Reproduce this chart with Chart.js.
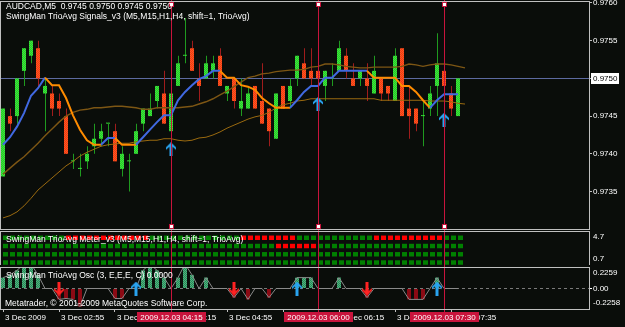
<!DOCTYPE html>
<html><head><meta charset="utf-8">
<script src="https://cdn.jsdelivr.net/npm/chart.js@4.4.0/dist/chart.umd.min.js"></script>
<style>
html,body{margin:0;padding:0;background:#0a0d0a;width:625px;height:327px;overflow:hidden}
canvas{position:absolute;left:0}
</style></head><body>
<canvas id="cMain" width="625" height="230" style="top:0px"></canvas>
<canvas id="cMeter" width="625" height="35" style="top:230px"></canvas>
<canvas id="cOsc" width="625" height="62" style="top:265px"></canvas>
<script>
// ---------------- DATA ----------------
const symbol = 'AUDCAD', timeframe = 'M5';
const mainTitle = 'SwingMan TrioAvg Signals_v3 (M5,M15,H1,H4, shift=1, TrioAvg)';
const meterTitle = 'SwingMan TrioAvg Meter_v3 (M5,M15,H1,H4, shift=1, TrioAvg)';
const oscTitle = 'SwingMan TrioAvg Osc (3, E,E,E, C) 0.0000';
const copyright = 'Metatrader, \u00a9 2001-2009 MetaQuotes Software Corp.';

const opens = [0.9737,0.9745,0.9745,0.9751,0.9753,0.9754,0.9748,0.9748,0.9747,0.9745,
0.9739,0.9738,0.9739,0.9741,0.9742,0.9744,0.9743,0.9738,0.9739,0.9740,
0.9744,0.9745,0.9747,0.9748,0.9743,0.9749,0.9753,0.9754,0.9750,0.9750,
0.9751,0.9753,0.9748,0.9750,0.9746,0.9746,0.9749,0.9747,0.9746,0.9742,
0.9749,0.9747,0.9750,0.9752,0.9751,0.9751,0.9749,0.9750,0.9751,0.9753,
0.9750,0.9750,0.9750,0.9748,0.9750,0.9749,0.9747,0.9754,0.9746,0.9746,
0.9745,0.9746,0.9749,0.9751,0.9748,0.9745];
const highs = [0.9746,0.9746,0.9750,0.9754,0.9755,0.9755,0.9750,0.9749,0.9748,0.9746,
0.9740,0.9740,0.9741,0.9744,0.9744,0.9744,0.9744,0.9741,0.9740,0.9744,
0.9746,0.9748,0.9749,0.9751,0.9750,0.9753,0.9758,0.9755,0.9752,0.9753,
0.9753,0.9754,0.9749,0.9750,0.9750,0.9749,0.9749,0.9752,0.9746,0.9748,
0.9749,0.9750,0.9753,0.9754,0.9754,0.9751,0.9751,0.9752,0.9755,0.9754,
0.9752,0.9751,0.9752,0.9753,0.9750,0.9749,0.9754,0.9754,0.9749,0.9746,
0.9747,0.9749,0.9756,0.9751,0.9749,0.9750];
const lows = [0.9737,0.9743,0.9744,0.9749,0.9752,0.9749,0.9743,0.9745,0.9745,0.9740,
0.9738,0.9737,0.9738,0.9740,0.9741,0.9741,0.9739,0.9737,0.9735,0.9740,
0.9743,0.9745,0.9746,0.9744,0.9743,0.9749,0.9752,0.9751,0.9747,0.9750,
0.9750,0.9749,0.9747,0.9746,0.9745,0.9746,0.9746,0.9744,0.9741,0.9742,
0.9746,0.9746,0.9749,0.9750,0.9749,0.9750,0.9747,0.9749,0.9751,0.9750,
0.9749,0.9749,0.9747,0.9748,0.9747,0.9747,0.9747,0.9745,0.9742,0.9743,
0.9741,0.9745,0.9745,0.9749,0.9745,0.9745];
const closes = [0.9746,0.9744,0.9750,0.9754,0.9755,0.9750,0.9749,0.9746,0.9746,0.9740,
0.9739,0.9738,0.9740,0.9742,0.9743,0.9744,0.9739,0.9740,0.9739,0.9743,
0.9746,0.9746,0.9749,0.9744,0.9748,0.9752,0.9753,0.9751,0.9749,0.9752,
0.9752,0.9749,0.9749,0.9747,0.9747,0.9748,0.9746,0.9744,0.9743,0.9748,
0.9746,0.9749,0.9753,0.9750,0.9750,0.9750,0.9751,0.9750,0.9754,0.9751,
0.9749,0.9751,0.9749,0.9751,0.9748,0.9748,0.9753,0.9745,0.9745,0.9744,
0.9745,0.9748,0.9752,0.9749,0.9746,0.9750];

const trioAvg = [0.97412,0.97422,0.97436,0.97454,0.97477,0.97487,0.97501,0.97491,0.97491,0.97474,
0.97451,0.97432,0.97418,0.97412,0.97412,0.97421,0.97421,0.97412,0.97412,0.97412,
0.97422,0.97432,0.97442,0.97451,0.97451,0.97471,0.97482,0.97491,0.97499,0.97503,
0.97510,0.97510,0.97501,0.97501,0.97491,0.97489,0.97485,0.97474,0.97467,0.97461,
0.97461,0.97461,0.97471,0.97482,0.97490,0.97490,0.97501,0.97501,0.97510,0.97510,
0.97510,0.97510,0.97510,0.97501,0.97501,0.97501,0.97501,0.97490,0.97490,0.97482,
0.97471,0.97461,0.97471,0.97479,0.97479,0.97479];
const trioDir = [1,1,1,1,1,1,1,-1,-1,-1,
-1,-1,-1,-1,-1,1,1,-1,-1,-1,
1,1,1,1,1,1,1,1,1,1,
1,1,-1,-1,-1,-1,-1,-1,-1,-1,
-1,-1,1,1,1,1,1,1,1,1,
1,1,1,-1,-1,-1,-1,-1,-1,-1,
-1,-1,1,1,1,1];
const maUpper = [0.97373,0.97381,0.97389,0.97396,0.97405,0.97414,0.97424,0.97433,0.97442,0.97450,
0.97455,0.97458,0.97459,0.97461,0.97461,0.97462,0.97463,0.97463,0.97462,0.97461,
0.97459,0.97459,0.97461,0.97461,0.97461,0.97461,0.97462,0.97463,0.97466,0.97469,
0.97473,0.97478,0.97483,0.97489,0.97495,0.97501,0.97503,0.97506,0.97507,0.97509,
0.97510,0.97511,0.97511,0.97512,0.97515,0.97516,0.97519,0.97519,0.97518,0.97516,
0.97515,0.97514,0.97514,0.97515,0.97515,0.97515,0.97515,0.97516,0.97519,0.97518,
0.97516,0.97518,0.97519,0.97519,0.97518,0.97516,0.97514];
const maLower = [0.97315,0.97318,0.97323,0.97331,0.97341,0.97352,0.97360,0.97368,0.97376,0.97384,
0.97390,0.97397,0.97402,0.97406,0.97410,0.97412,0.97413,0.97414,0.97414,0.97416,
0.97417,0.97418,0.97418,0.97420,0.97420,0.97418,0.97417,0.97418,0.97421,0.97422,
0.97425,0.97429,0.97434,0.97438,0.97442,0.97446,0.97449,0.97451,0.97455,0.97461,
0.97465,0.97467,0.97470,0.97471,0.97473,0.97473,0.97473,0.97473,0.97473,0.97473,
0.97473,0.97473,0.97473,0.97473,0.97471,0.97471,0.97471,0.97471,0.97471,0.97471,
0.97471,0.97470,0.97470,0.97470,0.97469,0.97467,0.97466];

const buyIdx = [24, 45, 63];
const buyPrice = [0.97406, 0.97466, 0.97445];
const priceTicks = [0.9760, 0.9755, 0.9750, 0.9745, 0.9740, 0.9735];
const bidPrice = 0.9750;

const meterM5 = [1,1,1,1,1,1,1,1,1,-1,
-1,-1,-1,-1,-1,-1,-1,-1,-1,-1,
-1,1,1,1,1,1,1,1,1,1,
1,1,1,1,-1,-1,-1,-1,-1,-1,
-1,-1,1,1,1,1,1,1,1,1,
1,1,1,-1,-1,-1,-1,-1,-1,-1,
-1,-1,-1,1,1,1];
const meterM15 = [1,1,1,1,1,1,1,1,1,1,
1,1,1,1,1,1,1,1,1,1,
1,1,1,1,1,1,1,1,1,1,
1,1,1,1,1,1,1,1,1,-1,
-1,-1,-1,-1,-1,1,1,1,1,1,
1,1,1,1,1,1,1,1,1,1,
1,1,1,1,1,1];
const meterH1 = [1,1,1,1,1,1,1,1,1,1,
1,1,1,1,1,1,1,1,1,1,
1,1,1,1,1,1,1,1,1,1,
1,1,1,1,1,1,1,1,1,1,
1,1,1,1,1,1,1,1,1,1,
1,1,1,1,1,1,1,1,1,1,
1,1,1,1,1,1];
const meterH4 = [1,1,1,1,1,1,1,1,1,1,
1,1,1,1,1,1,1,1,1,1,
1,1,1,1,1,1,1,1,1,1,
1,1,1,1,1,1,1,1,1,1,
1,1,1,1,1,1,1,1,1,1,
1,1,1,1,1,1,1,1,1,1,
1,1,1,1,1,1];

const oscHist = [0.12,0.15,0.20,0.27,0.27,0.15,0,0,-0.12,-0.11,
-0.12,-0.20,0,0,0,0,-0.11,-0.11,0,0,
0.20,0.27,0.20,0.12,0,0.12,0.27,0.15,0,0.12,
0,0,0,-0.10,0,-0.12,0,0,-0.10,0,
0,0,0.12,0.12,0.12,0,0,0,0.12,0,
0,0,-0.10,0,0,0,0,0,-0.12,-0.12,
-0.12,0,0.12,0,0,0];
const oscSellIdx = [8, 33, 52];
const oscBuyIdx = [19, 42, 62];
const oscMax = 0.2259, oscMin = -0.2258;
const meterMax = 4.7, meterMin = 0.7;

const signalIdx = [24, 45, 63];
const signalTimes = ['2009.12.03 04:15', '2009.12.03 06:00', '2009.12.03 07:30'];
const timeTickIdx = [0, 8, 16, 24, 32, 40, 48, 56, 64];
const timeLabels = ['3 Dec 2009','3 Dec 02:55','3 Dec 03:35','3 Dec 04:15','3 Dec 04:55','3 Dec 05:35','3 Dec 06:15','3 Dec 06:55','3 Dec 07:35'];

// ---------------- STYLE ----------------
const X_MIN = -3/7, X_MAX = 586/7;
const WICK_SHIFT = 0.5/7, METER_SHIFT = 2.5/7;
const FAM = '"Liberation Sans", Arial, sans-serif';
const TXT = '8.5px ' + FAM, AX = '8px ' + FAM;
const C = {
  bullWick:'#1f9a1f', bearWick:'#a01c1c',
  up:'#4169e1', down:'#ff8c00', maU:'#7d5614', maL:'#9a6a10',
  bid:'#5d6aa0', frame:'#c0c0c0', signal:'#c8143c', text:'#ffffff',
  meterUp:'#008000', meterDn:'#ff0000', oscDn:'#8b0a14', oscLine:'#8a8a8a'
};
Chart.defaults.font.family = FAM;
Chart.defaults.font.size = 8;
Chart.defaults.color = C.text;

const patCtx = document.createElement('canvas').getContext('2d');
function checker(a, b){
  const c = document.createElement('canvas'); c.width = 2; c.height = 2;
  const g = c.getContext('2d');
  g.fillStyle = a; g.fillRect(0, 0, 2, 2);
  g.fillStyle = b; g.fillRect(0, 0, 1, 1); g.fillRect(1, 1, 1, 1);
  return patCtx.createPattern(c, 'repeat');
}
const bullBody = checker('#26cc26', '#3ee03e');
const bearBody = checker('#ff5522', '#ee3c12');
const oscUp = checker('#2a8a58', '#4fb07e');

function makeArrow(color, up){
  const c = document.createElement('canvas'); c.width = 10; c.height = 14;
  const g = c.getContext('2d');
  if (!up) { g.translate(0, 14); g.scale(1, -1); }
  g.fillStyle = color;
  g.beginPath();
  g.moveTo(5,0); g.lineTo(10,5); g.lineTo(10,7.5); g.lineTo(6.5,4.5); g.lineTo(6.5,14);
  g.lineTo(3.5,14); g.lineTo(3.5,4.5); g.lineTo(0,7.5); g.lineTo(0,5); g.closePath(); g.fill();
  return c;
}
const arrowUp = makeArrow('#29a3ef', true);
const arrowDown = makeArrow('#ff2222', false);

function xAxis(show){
  return {
    type:'linear', min:X_MIN, max:X_MAX, offset:false, bounds:'data', display:show,
    grid:{display:show, drawOnChartArea:false, drawTicks:true, tickLength:3, color:C.frame, offset:false},
    border:{display:false},
    ticks:{display:show, autoSkip:false, maxRotation:0, align:'start', labelOffset:2, padding:1,
      color:C.text, font:{size:8}, callback:(v,i)=>timeLabels[i]},
    afterBuildTicks:s=>{ s.ticks = timeTickIdx.map(v=>({value:v})); },
    afterFit:s=>{ s.height = show ? 18 : 0; s.paddingLeft = 0; s.paddingRight = 0; }
  };
}
function yAxis(min, max, ticks, fmt, tickColor, showTicks){
  return {
    type:'linear', position:'right', min, max, beginAtZero:false, bounds:'data',
    grid:{drawOnChartArea:false, drawTicks:showTicks, tickLength:3, color:tickColor, lineWidth:1},
    border:{display:false},
    ticks:{display:showTicks, autoSkip:false, padding:1, color:C.text, font:{size:8}, callback:fmt},
    afterBuildTicks:s=>{ s.ticks = ticks.map(v=>({value:v})); },
    afterFit:s=>{ s.width = 36; s.paddingTop = 0; s.paddingBottom = 0; }
  };
}
const common = {
  responsive:false, animation:false, devicePixelRatio:1, events:[],
  plugins:{legend:{display:false}, tooltip:{enabled:false}}
};
function drawFrame(ch){
  const g = ch.ctx, a = ch.chartArea;
  g.save(); g.strokeStyle = C.frame; g.lineWidth = 1;
  g.strokeRect(a.left + 0.5, a.top - 0.5, a.right - a.left, a.bottom - a.top + 1);
  g.restore();
}
function drawSignals(ch, y0, y1, markers){
  const g = ch.ctx, xs = ch.scales.x, a = ch.chartArea;
  g.save();
  signalIdx.forEach(i=>{
    const xi = Math.round(xs.getPixelForValue(i));
    g.strokeStyle = C.signal; g.lineWidth = 1;
    g.beginPath(); g.moveTo(xi + 0.5, y0); g.lineTo(xi + 0.5, y1); g.stroke();
    if (markers) {
      [a.top, a.bottom - 5].forEach(my=>{
        g.fillStyle = C.signal; g.fillRect(xi - 2, my, 5, 5);
        g.fillStyle = '#ffffff'; g.fillRect(xi - 1, my + 1, 3, 3);
      });
    }
  });
  g.restore();
}
function drawText(g, s, x, y, font){
  g.font = font || TXT; g.fillStyle = C.text; g.textAlign = 'left'; g.textBaseline = 'middle';
  g.fillText(s, x, y);
}
const f4 = v => v.toFixed(4);
const last = opens.length - 1;

// ---------------- MAIN CHART ----------------
const mainDeco = {
  id:'mainDeco',
  beforeDatasetsDraw(ch){
    const g = ch.ctx, a = ch.chartArea;
    const y = Math.round(ch.scales.y.getPixelForValue(bidPrice)) + 0.5;
    g.save(); g.strokeStyle = C.bid; g.lineWidth = 1;
    g.beginPath(); g.moveTo(a.left, y); g.lineTo(a.right, y); g.stroke(); g.restore();
  },
  afterDatasetsDraw(ch){
    drawSignals(ch, 0, ch.height, true);
    const g = ch.ctx; g.save();
    drawText(g, symbol + ',' + timeframe + '  ' + f4(opens[last]) + ' ' + f4(highs[last]) + ' ' + f4(lows[last]) + ' ' + f4(closes[last]), 6, 7);
    drawText(g, mainTitle, 6, 17);
    g.restore();
  },
  afterDraw(ch){
    drawFrame(ch);
    const g = ch.ctx, a = ch.chartArea;
    const y = Math.round(ch.scales.y.getPixelForValue(bidPrice));
    g.save();
    g.fillStyle = '#ffffff'; g.fillRect(a.right + 2, y - 5, 28, 11);
    g.font = AX; g.fillStyle = '#000000'; g.textAlign = 'left'; g.textBaseline = 'middle';
    g.fillText(f4(bidPrice), a.right + 4, y + 0.5);
    g.restore();
  }
};
new Chart(document.getElementById('cMain'), {
  type:'bar',
  data:{ datasets:[
    { type:'scatter', order:0, data: buyIdx.map((i,k)=>({x:i, y:buyPrice[k]})),
      pointStyle: arrowUp, pointRadius:6, showLine:false },
    { type:'line', order:1, data: trioAvg.map((v,i)=>({x:i, y:v})), borderWidth:2, pointRadius:0,
      borderColor:C.up, segment:{ borderColor: c => trioDir[c.p1DataIndex] > 0 ? C.up : C.down } },
    { type:'line', order:2, data: maUpper.map((v,i)=>({x:i, y:v})), borderWidth:1.4, pointRadius:0, borderColor:C.maU },
    { type:'line', order:2, data: maLower.map((v,i)=>({x:i, y:v})), borderWidth:1, pointRadius:0, borderColor:C.maL },
    { type:'bar', order:3, grouped:false, barThickness:4, minBarLength:1, inflateAmount:0, borderWidth:0,
      data: opens.map((o,i)=>({x:i, y:[o, closes[i]]})),
      backgroundColor: c => closes[c.dataIndex] >= opens[c.dataIndex] ? bullBody : bearBody },
    { type:'bar', order:4, grouped:false, barThickness:1, inflateAmount:0, borderWidth:0,
      data: lows.map((l,i)=>({x:i + WICK_SHIFT, y:[l, highs[i]]})),
      backgroundColor: c => closes[c.dataIndex] >= opens[c.dataIndex] ? C.bullWick : C.bearWick }
  ]},
  options:Object.assign({}, common, {
    layout:{autoPadding:false, padding:{top:2, bottom:1, left:0, right:0}},
    scales:{
      x: xAxis(false),
      y: yAxis(0.973003, 0.976013, priceTicks, v=>f4(v), C.frame, true)
    }
  }),
  plugins:[mainDeco]
});

// ---------------- METER CHART ----------------
const meterRows = [meterM5, meterM15, meterH1, meterH4];
const meterDeco = {
  id:'meterDeco',
  afterDatasetsDraw(ch){
    drawSignals(ch, 0, ch.height, false);
    const g = ch.ctx, a = ch.chartArea; g.save();
    drawText(g, meterTitle, 6, a.top + 8);
    g.restore();
  },
  afterDraw(ch){
    drawFrame(ch);
    const g = ch.ctx, a = ch.chartArea, s = ch.scales.y; g.save();
    drawText(g, s.max.toFixed(1), a.right + 4, a.top + 5, AX);
    drawText(g, s.min.toFixed(1), a.right + 4, a.bottom - 6, AX);
    g.restore();
  }
};
new Chart(document.getElementById('cMeter'), {
  type:'bar',
  data:{ datasets: meterRows.map((row, r)=>({
    type:'bar', grouped:false, barThickness:5, inflateAmount:0, borderWidth:0,
    data: row.map((s,i)=>({x:i + METER_SHIFT, y:[4 - r - 0.27, 4 - r + 0.27]})),
    backgroundColor: c => row[c.dataIndex] > 0 ? C.meterUp : C.meterDn
  }))},
  options:Object.assign({}, common, {
    layout:{autoPadding:false, padding:{top:2, bottom:0, left:0, right:0}},
    scales:{ x: xAxis(false), y: yAxis(meterMin, meterMax, [], v=>'', C.frame, false) }
  }),
  plugins:[meterDeco]
});

// ---------------- OSC CHART ----------------
const oscDeco = {
  id:'oscDeco',
  beforeDatasetsDraw(ch){
    const g = ch.ctx, a = ch.chartArea;
    const y = Math.floor(ch.scales.y.getPixelForValue(0)) + 0.5;
    g.save(); g.strokeStyle = '#7a7a7a'; g.lineWidth = 1; g.setLineDash([3,3]);
    g.beginPath(); g.moveTo(a.left, y); g.lineTo(a.right, y); g.stroke(); g.restore();
  },
  afterDatasetsDraw(ch){
    const a = ch.chartArea;
    drawSignals(ch, 0, a.bottom + 3, false);
    const g = ch.ctx; g.save();
    drawText(g, oscTitle, 6, a.top + 8);
    drawText(g, copyright, 5, a.bottom - 5);
    g.restore();
  },
  afterDraw(ch){
    drawFrame(ch);
    const g = ch.ctx, a = ch.chartArea, s = ch.scales.y, xs = ch.scales.x; g.save();
    drawText(g, s.max.toFixed(4), a.right + 4, a.top + 5, AX);
    drawText(g, s.min.toFixed(4), a.right + 4, a.bottom - 6, AX);
    signalIdx.forEach((i,k)=>{
      const xi = Math.round(xs.getPixelForValue(i));
      g.fillStyle = C.signal; g.fillRect(xi - 34, a.bottom + 3, 69, 10);
      g.font = AX; g.fillStyle = '#ffffff'; g.textAlign = 'center'; g.textBaseline = 'middle';
      g.fillText(signalTimes[k], xi + 0.5, a.bottom + 8.5);
    });
    g.restore();
  }
};
new Chart(document.getElementById('cOsc'), {
  type:'bar',
  data:{ datasets:[
    { type:'scatter', order:0, data: oscSellIdx.map(i=>({x:i, y:0})), pointStyle: arrowDown, pointRadius:6, showLine:false },
    { type:'scatter', order:0, data: oscBuyIdx.map(i=>({x:i, y:0})), pointStyle: arrowUp, pointRadius:6, showLine:false },
    { type:'line', order:1, data: oscHist.map((v,i)=>({x:i, y:v})), borderWidth:1, pointRadius:0, borderColor:C.oscLine },
    { type:'bar', order:2, grouped:false, barThickness:4, inflateAmount:0, borderWidth:0,
      data: oscHist.map((v,i)=>({x:i, y:v})),
      backgroundColor: c => oscHist[c.dataIndex] >= 0 ? oscUp : C.oscDn }
  ]},
  options:Object.assign({}, common, {
    layout:{autoPadding:false, padding:{top:3, bottom:0, left:0, right:0}},
    scales:{
      x: xAxis(true),
      y: yAxis(oscMin, oscMax, [0], v=>v.toFixed(2), '#ffffff', true)
    }
  }),
  plugins:[oscDeco]
});
</script>
</body></html>
